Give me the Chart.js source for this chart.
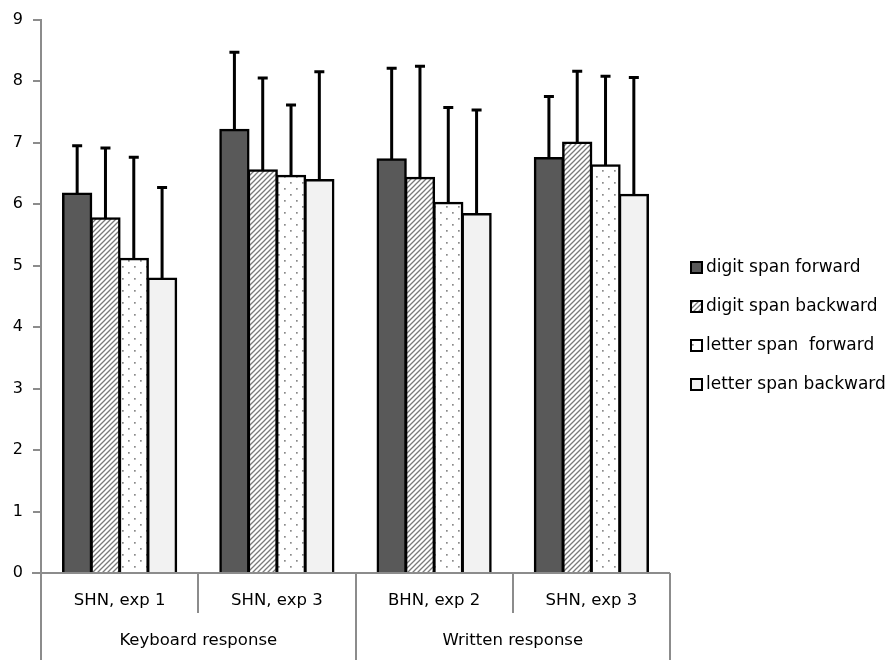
<!DOCTYPE html>
<html>
<head>
<meta charset="utf-8">
<script src="https://cdn.jsdelivr.net/npm/chart.js@4"></script>
<style>
  html, body { margin: 0; padding: 0; background: #fff; }
  #wrap { width: 892px; height: 666px; }
</style>
</head>
<body>
<div id="wrap"><canvas id="spanChart" width="892" height="666"></canvas></div>
<script>
// Data Setup
const conditions = ['SHN, exp 1', 'SHN, exp 3', 'BHN, exp 2', 'SHN, exp 3'];
const responseGroups = ['Keyboard response', 'Written response'];
const seriesNames = ['digit span forward', 'digit span backward', 'letter span  forward', 'letter span backward'];
const digitForward = [6.17, 7.21, 6.73, 6.75];
const digitBackward = [5.77, 6.55, 6.43, 7.00];
const letterForward = [5.11, 6.46, 6.02, 6.63];
const letterBackward = [4.79, 6.39, 5.84, 6.15];
const digitForwardSd = [0.78, 1.26, 1.48, 1.00];
const digitBackwardSd = [1.14, 1.50, 1.81, 1.16];
const letterForwardSd = [1.65, 1.15, 1.55, 1.45];
const letterBackwardSd = [1.48, 1.76, 1.69, 1.91];
const yTicks = [0, 1, 2, 3, 4, 5, 6, 7, 8, 9];

const FONT = 'DejaVu Sans';
const AXIS_GREY = '#8c8c8c';

// Fill patterns
function makeHatch() {
  const c = document.createElement('canvas');
  c.width = c.height = 5;
  const g = c.getContext('2d');
  g.fillStyle = '#fff';
  g.fillRect(0, 0, 5, 5);
  g.strokeStyle = '#7a7a7a';
  g.lineWidth = 1.3;
  g.beginPath();
  g.moveTo(0, 5); g.lineTo(5, 0);
  g.moveTo(-1, 1); g.lineTo(1, -1);
  g.moveTo(4, 6); g.lineTo(6, 4);
  g.stroke();
  return g.createPattern(c, 'repeat');
}

function makeDots() {
  const c = document.createElement('canvas');
  c.width = 12;
  c.height = 12;
  const g = c.getContext('2d');
  g.fillStyle = '#fff';
  g.fillRect(0, 0, 12, 12);
  g.fillStyle = '#8a8a8a';
  g.fillRect(2, 2, 1.7, 1.7);
  g.fillRect(8, 8, 1.7, 1.7);
  return g.createPattern(c, 'repeat');
}

const fills = ['#595959', makeHatch(), makeDots(), '#f2f2f2'];
const means = [digitForward, digitBackward, letterForward, letterBackward];
const sds = [digitForwardSd, digitBackwardSd, letterForwardSd, letterBackwardSd];

// Upper error bars
const errorBars = {
  id: 'errorBars',
  afterDatasetsDraw(chart) {
    const ctx = chart.ctx;
    const y = chart.scales.y;
    ctx.save();
    ctx.strokeStyle = '#000';
    ctx.lineWidth = 3;
    chart.data.datasets.forEach((ds, i) => {
      chart.getDatasetMeta(i).data.forEach((bar, j) => {
        const top = y.getPixelForValue(means[i][j] + sds[i][j]);
        ctx.beginPath();
        ctx.moveTo(bar.x, bar.y);
        ctx.lineTo(bar.x, top);
        ctx.moveTo(bar.x - 5, top);
        ctx.lineTo(bar.x + 5, top);
        ctx.stroke();
      });
    });
    ctx.restore();
  }
};

// Two-level category axis
const groupAxis = {
  id: 'groupAxis',
  afterDraw(chart) {
    const ctx = chart.ctx;
    const x = chart.scales.x;
    const base = chart.chartArea.bottom;
    const step = (x.right - x.left) / conditions.length;
    ctx.save();
    ctx.strokeStyle = AXIS_GREY;
    ctx.lineWidth = 2;
    ctx.beginPath();
    ctx.moveTo(x.left - 9, base);
    ctx.lineTo(x.right, base);
    for (let k = 0; k <= conditions.length; k++) {
      const px = Math.round(x.left + k * step);
      ctx.moveTo(px, base);
      ctx.lineTo(px, k % 2 === 0 ? base + 87 : base + 40);
    }
    ctx.stroke();
    ctx.fillStyle = '#000';
    ctx.font = '16.5px ' + FONT;
    ctx.textAlign = 'center';
    ctx.textBaseline = 'middle';
    conditions.forEach((c, i) => ctx.fillText(c, x.getPixelForValue(i), base + 28));
    responseGroups.forEach((g, i) => ctx.fillText(g, x.left + (2 * i + 1) * step, base + 68));
    ctx.restore();
  }
};

// Legend on the right
const sideLegend = {
  id: 'sideLegend',
  afterDraw(chart) {
    const ctx = chart.ctx;
    const lx = chart.chartArea.right + 21;
    const ly = 268;
    ctx.save();
    ctx.font = '17px ' + FONT;
    ctx.textBaseline = 'middle';
    seriesNames.forEach((name, i) => {
      const cy = ly + i * 39;
      ctx.fillStyle = fills[i];
      ctx.fillRect(lx, cy - 6, 11, 11);
      ctx.strokeStyle = '#000';
      ctx.lineWidth = 2;
      ctx.strokeRect(lx, cy - 6, 11, 11);
      ctx.fillStyle = '#000';
      ctx.fillText(name, lx + 15, cy);
    });
    ctx.restore();
  }
};

const spanChart = new Chart(document.getElementById('spanChart').getContext('2d'), {
  type: 'bar',
  data: {
    labels: conditions,
    datasets: seriesNames.map((name, i) => ({
      label: name,
      data: means[i],
      backgroundColor: fills[i],
      borderColor: '#000',
      borderWidth: 2.5,
      borderSkipped: 'bottom',
      inflateAmount: 1,
      categoryPercentage: 0.72,
      barPercentage: 1
    }))
  },
  options: {
    responsive: false,
    animation: false,
    layout: { padding: { top: 15, right: 222, left: 0, bottom: 0 } },
    plugins: {
      legend: { display: false },
      tooltip: { enabled: false }
    },
    scales: {
      x: {
        ticks: { display: false },
        grid: { display: false },
        border: { display: false },
        afterFit: s => { s.height = 93; }
      },
      y: {
        min: 0,
        max: 9,
        afterBuildTicks: s => { s.ticks = yTicks.map(v => ({ value: v })); },
        ticks: { color: '#000', font: { family: FONT, size: 16 }, padding: 10 },
        grid: { drawOnChartArea: false, drawTicks: true, tickLength: 8, color: AXIS_GREY, lineWidth: 2 },
        border: { color: AXIS_GREY, width: 2 },
        afterFit: s => { s.width = 41; }
      }
    }
  },
  plugins: [errorBars, groupAxis, sideLegend]
});
</script>
</body>
</html>
